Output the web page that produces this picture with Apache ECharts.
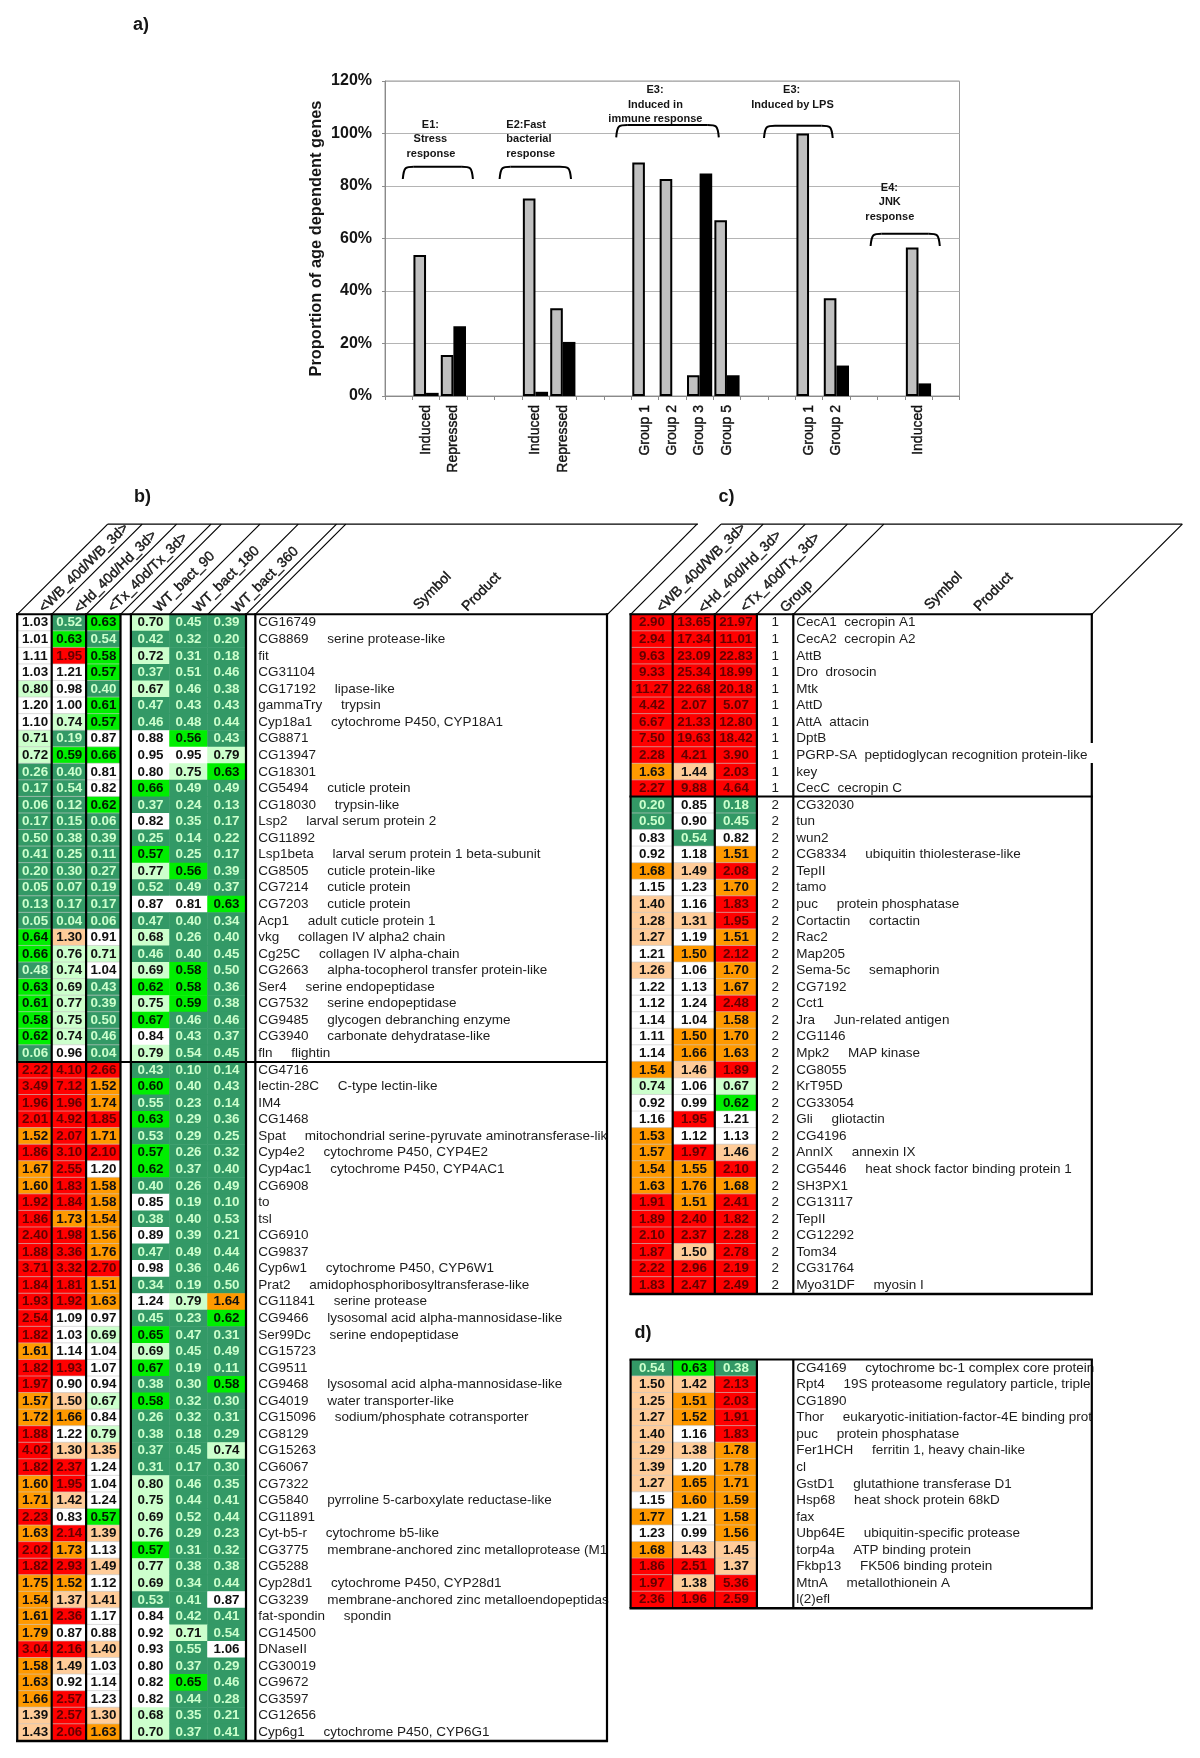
<!DOCTYPE html>
<html><head><meta charset="utf-8">
<style>html,body{margin:0;padding:0;background:#fff}#c{width:1200px;height:1758px}</style>
<script src="https://cdn.jsdelivr.net/npm/echarts@6/dist/echarts.min.js"></script>
</head><body><div id="c"></div>
<script>
// ---------- panel a ----------
const barCategories=['','Induced','Repressed','','','Induced','Repressed','','','Group 1','Group 2','Group 3','Group 5','','','Group 1','Group 2','','','Induced',''];
const grayValues=[null,53.7,15.6,null,null,75.2,33.4,null,null,89,82.7,7.9,67,null,null,100,37.2,null,null,56.6,null];
const blackValues=[null,1.2,26.6,null,null,1.6,20.6,null,null,0,0,84.8,7.9,null,null,0,11.6,null,null,4.8,null];
// ---------- panel b ----------
const bSymbols=['CG16749','CG8869','fit','CG31104','CG17192','gammaTry','Cyp18a1','CG8871','CG13947','CG18301','CG5494','CG18030','Lsp2','CG11892','Lsp1beta','CG8505','CG7214','CG7203','Acp1','vkg','Cg25C','CG2663','Ser4','CG7532','CG9485','CG3940','fln',
'CG4716','lectin-28C','IM4','CG1468','Spat','Cyp4e2','Cyp4ac1','CG6908','to','tsl','CG6910','CG9837','Cyp6w1','Prat2','CG11841','CG9466','Ser99Dc','CG15723','CG9511','CG9468','CG4019','CG15096','CG8129','CG15263','CG6067','CG7322','CG5840','CG11891','Cyt-b5-r','CG3775','CG5288','Cyp28d1','CG3239','fat-spondin','CG14500','DNaseII','CG30019','CG9672','CG3597','CG12656','Cyp6g1'];
const bProducts=['','serine protease-like','','','lipase-like','trypsin','cytochrome P450, CYP18A1','','','','cuticle protein','trypsin-like','larval serum protein 2','','larval serum protein 1 beta-subunit','cuticle protein-like','cuticle protein','cuticle protein','adult cuticle protein 1','collagen IV alpha2 chain','collagen IV alpha-chain','alpha-tocopherol transfer protein-like','serine endopeptidase','serine endopeptidase','glycogen debranching enzyme','carbonate dehydratase-like','flightin',
'','C-type lectin-like','','','mitochondrial serine-pyruvate aminotransferase-like','cytochrome P450, CYP4E2','cytochrome P450, CYP4AC1','','','','','','cytochrome P450, CYP6W1','amidophosphoribosyltransferase-like','serine protease','lysosomal acid alpha-mannosidase-like','serine endopeptidase','','','lysosomal acid alpha-mannosidase-like','water transporter-like','sodium/phosphate cotransporter','','','','','pyrroline 5-carboxylate reductase-like','','cytochrome b5-like','membrane-anchored zinc metalloprotease (M13)','','cytochrome P450, CYP28d1','membrane-anchored zinc metalloendopeptidase','spondin','','','','','','','cytochrome P450, CYP6G1'];
const bAgeing=[[1.03,.52,.63],[1.01,.63,.54],[1.11,1.95,.58],[1.03,1.21,.57],[.799,.98,.40],[1.20,1.00,.61],[1.10,.74,.57],[.71,.19,.87],[.72,.59,.66],[.26,.40,.81],[.17,.54,.82],[.06,.12,.62],[.17,.15,.06],[.50,.38,.39],[.41,.25,.11],[.20,.30,.27],[.05,.07,.19],[.13,.17,.17],[.05,.04,.06],[.64,1.30,.91],[.66,.76,.71],[.48,.74,1.04],[.63,.69,.43],[.61,.77,.39],[.58,.75,.50],[.62,.74,.46],[.06,.96,.04],
[2.22,4.10,2.66],[3.49,7.12,1.52],[1.96,1.96,1.74],[2.01,4.92,1.85],[1.52,2.07,1.71],[1.86,3.10,2.10],[1.67,2.55,1.20],[1.60,1.83,1.58],[1.92,1.84,1.58],[1.86,1.73,1.54],[2.40,1.98,1.56],[1.88,3.36,1.76],[3.71,3.32,2.70],[1.84,1.81,1.51],[1.93,1.92,1.63],[2.54,1.09,.97],[1.82,1.03,.69],[1.61,1.14,1.04],[1.82,1.93,1.07],[1.97,.90,.94],[1.57,1.499,.67],[1.72,1.66,.84],[1.88,1.22,.79],[4.02,1.30,1.35],[1.82,2.37,1.24],[1.60,1.95,1.04],[1.71,1.42,1.24],[2.23,.83,.57],[1.63,2.14,1.39],[2.02,1.73,1.13],[1.82,2.93,1.49],[1.75,1.52,1.12],[1.54,1.37,1.41],[1.61,2.36,1.17],[1.79,.87,.88],[3.04,2.16,1.40],[1.58,1.49,1.03],[1.63,.92,1.14],[1.66,2.57,1.23],[1.39,2.57,1.30],[1.43,2.06,1.63]];
const bBacteria=[[.70,.45,.39],[.42,.32,.20],[.72,.31,.18],[.37,.51,.46],[.67,.46,.38],[.47,.43,.43],[.46,.48,.44],[.88,.56,.43],[.95,.95,.79],[.80,.75,.63],[.66,.49,.49],[.37,.24,.13],[.82,.35,.17],[.25,.14,.22],[.57,.25,.17],[.77,.56,.39],[.52,.49,.37],[.87,.81,.63],[.47,.40,.34],[.68,.26,.40],[.46,.40,.45],[.69,.58,.50],[.62,.58,.36],[.75,.59,.38],[.666,.46,.46],[.84,.43,.37],[.79,.54,.45],
[.43,.10,.14],[.60,.40,.43],[.55,.23,.14],[.63,.29,.36],[.53,.29,.25],[.57,.26,.32],[.62,.37,.40],[.40,.26,.49],[.85,.19,.10],[.38,.40,.53],[.89,.39,.21],[.47,.49,.44],[.98,.36,.46],[.34,.19,.50],[1.24,.79,1.64],[.45,.23,.62],[.65,.47,.31],[.69,.45,.49],[.666,.19,.11],[.38,.30,.58],[.58,.32,.30],[.26,.32,.31],[.38,.18,.29],[.37,.45,.74],[.31,.17,.30],[.799,.46,.35],[.75,.44,.41],[.69,.52,.44],[.76,.29,.23],[.57,.31,.32],[.77,.38,.38],[.69,.34,.44],[.53,.41,.87],[.84,.42,.41],[.92,.71,.54],[.93,.55,1.06],[.80,.37,.29],[.82,.65,.46],[.82,.44,.28],[.68,.35,.21],[.70,.37,.41]];
// ---------- panel c ----------
const cSymbols=['CecA1','CecA2','AttB','Dro','Mtk','AttD','AttA','DptB','PGRP-SA','key','CecC','CG32030','tun','wun2','CG8334','TepII','tamo','puc','Cortactin','Rac2','Map205','Sema-5c','CG7192','Cct1','Jra','CG1146','Mpk2','CG8055','KrT95D','CG33054','Gli','CG4196','AnnIX','CG5446','SH3PX1','CG13117','TepII','CG12292','Tom34','CG31764','Myo31DF'];
const cProducts=['cecropin A1','cecropin A2','','drosocin','','','attacin','','peptidoglycan recognition protein-like','','cecropin C','','','','ubiquitin thiolesterase-like','','','protein phosphatase','cortactin','','','semaphorin','','','Jun-related antigen','','MAP kinase','','','','gliotactin','','annexin IX','heat shock factor binding protein 1','','','','','','','myosin I'];
const cAgeing=[[2.90,13.65,21.97],[2.94,17.34,11.01],[9.63,23.09,22.83],[9.33,25.34,18.99],[11.27,22.68,20.18],[4.42,2.07,5.07],[6.67,21.33,12.80],[7.50,19.63,18.42],[2.28,4.21,3.90],[1.63,1.44,2.03],[2.27,9.88,4.64],
[.20,.85,.18],[.50,.90,.45],[.83,.54,.82],[.92,1.18,1.51],[1.68,1.49,2.08],[1.15,1.23,1.70],[1.40,1.16,1.83],[1.28,1.31,1.95],[1.27,1.19,1.51],[1.21,1.50,2.12],[1.26,1.06,1.70],[1.22,1.13,1.67],[1.12,1.24,2.48],[1.14,1.04,1.58],[1.11,1.50,1.70],[1.14,1.66,1.63],[1.54,1.46,1.89],[.74,1.06,.67],[.92,.99,.62],[1.16,1.95,1.21],[1.53,1.12,1.13],[1.57,1.97,1.46],[1.54,1.55,2.10],[1.63,1.76,1.68],[1.91,1.51,2.41],[1.89,2.40,1.82],[2.10,2.37,2.28],[1.87,1.499,2.78],[2.22,2.96,2.19],[1.83,2.47,2.49]];
const cGroups=[1,1,1,1,1,1,1,1,1,1,1,2,2,2,2,2,2,2,2,2,2,2,2,2,2,2,2,2,2,2,2,2,2,2,2,2,2,2,2,2,2];
// ---------- panel d ----------
const dSymbols=['CG4169','Rpt4','CG1890','Thor','puc','Fer1HCH','cl','GstD1','Hsp68','fax','Ubp64E','torp4a','Fkbp13','MtnA','l(2)efl'];
const dProducts=['cytochrome bc-1 complex core protein','19S proteasome regulatory particle, triple-A ATPase','','eukaryotic-initiation-factor-4E binding protein','protein phosphatase','ferritin 1, heavy chain-like','','glutathione transferase D1','heat shock protein 68kD','','ubiquitin-specific protease','ATP binding protein','FK506 binding protein','metallothionein A',''];
const dAgeing=[[.54,.63,.38],[1.499,1.42,2.13],[1.25,1.51,2.03],[1.27,1.52,1.91],[1.40,1.16,1.83],[1.29,1.38,1.78],[1.39,1.20,1.78],[1.27,1.65,1.71],[1.15,1.60,1.59],[1.77,1.21,1.58],[1.23,.99,1.56],[1.68,1.43,1.45],[1.86,2.51,1.37],[1.97,1.38,5.36],[2.36,1.96,2.59]];
// ---------- header labels ----------
const bHeaders=['<WB_40d/WB_3d>','<Hd_40d/Hd_3d>','<Tx_40d/Tx_3d>','WT_bact_90','WT_bact_180','WT_bact_360','Symbol','Product'];
const cHeaders=['<WB_40d/WB_3d>','<Hd_40d/Hd_3d>','<Tx_40d/Tx_3d>','Group','Symbol','Product'];

const FONT='"Liberation Sans", Arial, sans-serif', INK='#151515';
const ROW=16.56;
function cellStyle(v){
  if(v<0.556) return {bg:'#339966',fg:'#ccffcc'};
  if(v<0.6667) return {bg:'#00ee00',fg:'#001a00'};
  if(v<0.8) return {bg:'#ccffcc',fg:'#101010'};
  if(v<1.25) return {bg:'#ffffff',fg:'#101010'};
  if(v<1.5) return {bg:'#ffcc99',fg:'#101010'};
  if(v<1.8) return {bg:'#ff9900',fg:'#101010'};
  return {bg:'#ff0000',fg:'#640000'};
}
const grids=[],xAxes=[],yAxes=[],series=[];
function panelGrid(left,right,top,rows,cols,labels,labelMargin,labelWidth){
  const i=grids.length;
  grids.push({left,top,width:right-left,height:rows*ROW});
  xAxes.push({gridIndex:i,type:'category',data:cols,show:false});
  yAxes.push({gridIndex:i,type:'category',inverse:true,data:labels||Array.from({length:rows},(_,k)=>String(k)),
    show:!!labels,position:'right',axisLine:{show:false},axisTick:{show:false},splitLine:{show:false},
    axisLabel:labels?{show:true,interval:0,hideOverlap:false,margin:labelMargin,align:'left',color:'#1c1c1c',fontFamily:FONT,fontSize:13.5,width:labelWidth,overflow:'truncate',ellipsis:''}:{show:false}});
  return i;
}
function heat(i,rows,lines){
  const data=[];
  rows.forEach((r,y)=>r.forEach((v,x)=>{const s=cellStyle(v);
    data.push({value:[x,y,v],itemStyle:{color:s.bg},label:{color:s.fg}});}));
  series.push({type:'heatmap',xAxisIndex:i,yAxisIndex:i,progressive:0,animation:false,data,
    itemStyle:lines?{borderColor:'rgba(200,200,200,.75)',borderWidth:.8}:{borderWidth:0},
    emphasis:{disabled:true},
    label:{show:true,fontFamily:FONT,fontWeight:'bold',fontSize:13.4,formatter:p=>p.value[2].toFixed(2)}});
}
function names(sym,prod,gapFor){return sym.map((s,i)=>prod[i]?s+gapFor(i)+prod[i]:s);}
const five=()=>'     ';
// panel b
const TOPB=614.5;
let g=panelGrid(18,120.5,TOPB,68,['a','b','c']); heat(g,bAgeing,true);
g=panelGrid(131.5,245.5,TOPB,68,['a','b','c'],names(bSymbols,bProducts,five),12.8,354); heat(g,bBacteria,false);
// panel c
g=panelGrid(631,756.9,TOPB,41,['a','b','c']); heat(g,cAgeing,true);
g=panelGrid(756.9,793.3,TOPB,41,['g'],names(cSymbols,cProducts,i=>i<11?'  ':'     '),3,294);
series.push({type:'heatmap',xAxisIndex:g,yAxisIndex:g,progressive:0,animation:false,emphasis:{disabled:true},
  data:cGroups.map((v,y)=>({value:[0,y,v]})),itemStyle:{color:'rgba(255,255,255,0)'},
  label:{show:true,color:'#1c1c1c',fontFamily:FONT,fontSize:13.4,formatter:p=>String(p.value[2])}});
// panel d
const TOPD=1359.6;
g=panelGrid(631,756.9,TOPD,15,['a','b','c']); heat(g,dAgeing,true);
g=panelGrid(756.9,793.3,TOPD,15,['g'],names(dSymbols,dProducts,five),3,301);
series.push({type:'heatmap',xAxisIndex:g,yAxisIndex:g,data:[]});
// panel a
const ga=grids.length;
grids.push({left:385,top:81,width:574.5,height:315,show:true,borderColor:'#9a9a9a',borderWidth:1,backgroundColor:'#fff'});
xAxes.push({gridIndex:ga,type:'category',data:barCategories,axisLine:{lineStyle:{color:'#8a8a8a',width:1.2}},
  axisTick:{show:true,interval:0,length:4,lineStyle:{color:'#8a8a8a'}},
  axisLabel:{interval:0,rotate:90,margin:9,color:'#111',fontFamily:FONT,fontSize:14,textBorderColor:'#111',textBorderWidth:.4}});
yAxes.push({gridIndex:ga,type:'value',min:0,max:120,interval:20,name:'Proportion of age dependent genes',nameLocation:'middle',nameGap:61,nameRotate:90,
  nameTextStyle:{color:'#151515',fontFamily:FONT,fontWeight:'bold',fontSize:16.4},
  axisLine:{show:true,lineStyle:{color:'#8a8a8a'}},axisTick:{show:true,length:3,lineStyle:{color:'#8a8a8a'}},
  splitLine:{lineStyle:{color:'#b4b4b4',width:1.2}},
  axisLabel:{formatter:'{value}%',margin:13,padding:[3,0,0,0],color:'#151515',fontFamily:FONT,fontWeight:'bold',fontSize:16}});
series.push({type:'bar',xAxisIndex:ga,yAxisIndex:ga,data:grayValues,barWidth:12.6,barGap:'0%',animation:false,itemStyle:{color:'#c0c0c0',borderColor:'#000',borderWidth:2}});
series.push({type:'bar',xAxisIndex:ga,yAxisIndex:ga,data:blackValues,barWidth:12.6,barGap:'0%',animation:false,itemStyle:{color:'#000'}});

// ---------- decoration ----------
const gfx=[];
const line=(x1,y1,x2,y2,w)=>gfx.push({type:'line',z:10,silent:true,shape:{x1,y1,x2,y2},style:{stroke:'#000',lineWidth:w,lineCap:'butt'}});
const text=(x,y,t,o)=>gfx.push({type:'text',z:10,silent:true,x,y,rotation:(o&&o.rot)||0,style:Object.assign({text:t,fill:INK,font:((o&&o.font)||'bold 11px')+' '+FONT,align:(o&&o.align)||'center',verticalAlign:'middle'},(o&&o.heavy)?{stroke:INK,lineWidth:.4}:{})});
function brace(x0,x1,y0,y1){
  const r=11,st={stroke:'#000',lineWidth:2,fill:null};
  gfx.push({type:'bezierCurve',z:10,silent:true,shape:{x1:x0,y1:y1,x2:x0+r,y2:y0,cpx1:x0+1,cpy1:y0,cpx2:x0+3,cpy2:y0},style:st});
  gfx.push({type:'line',z:10,silent:true,shape:{x1:x0+r,y1:y0,x2:x1-r,y2:y0},style:st});
  gfx.push({type:'bezierCurve',z:10,silent:true,shape:{x1:x1-r,y1:y0,x2:x1,y2:y1,cpx1:x1-3,cpy1:y0,cpx2:x1-1,cpy2:y0},style:st});
}
[[133,25,'a)'],[134,497,'b)'],[718.6,497,'c)'],[634.4,1333,'d)']].forEach(t=>text(t[0],t[1],t[2],{font:'bold 18px',align:'left'}));
// annotations of panel a
[[430.4,124.5,'E1:'],[430.4,139,'Stress'],[431,153.7,'response'],[655,90,'E3:'],[655.4,104.5,'Induced in'],[655.4,119,'immune response'],[791.6,90,'E3:'],[792.5,104.5,'Induced by LPS'],[889.4,188,'E4:'],[889.8,202,'JNK'],[889.8,216.7,'response']].forEach(t=>text(t[0],t[1],t[2]));
[[506.3,124.5,'E2:Fast'],[506.3,139,'bacterial'],[506.3,153.7,'response']].forEach(t=>text(t[0],t[1],t[2],{align:'left'}));
brace(402.8,472.9,166.7,179);brace(499.6,571,166.7,179);brace(616.2,718.8,125,137.3);brace(764,832.7,125.7,138);brace(870.6,939.8,233.7,246);
// header labels
const rot=Math.PI/4;
[[84,568],[115.5,572],[148,572.7],[184.5,582],[226.5,579.5],[265.5,580],[432.5,591],[481.5,592]].forEach((p,i)=>text(p[0],p[1],bHeaders[i],{rot,font:'14px',heavy:true}));
[[701.3,568],[740.2,572],[780.5,572.7],[796.5,596.6],[943.5,591],[993.5,592]].forEach((p,i)=>text(p[0],p[1],cHeaders[i],{rot,font:'14px',heavy:true}));
// frames, panel b
const TY=614.3,SL=90.5,HY=TY-SL+.3,BB=1741,DB=1062;
[17.2,51.7,86.1,120.5,130.9,169.5,207.8,246,255.3].forEach(x=>line(x,TY,x+SL,HY,1.2));
line(607.5,TY,607.5+SL-1,HY,1.2);
line(17.2+SL,HY,698,HY,1.2);
[17.2,51.7,86.1,120.5,130.9,246,255.3,607].forEach(x=>line(x,TY-1,x,BB+1,2.2));
line(16,TY,608,TY,2);line(16,DB,608,DB,2.2);line(16,BB,608,BB,2.4);
// frames, panel c
const CB=1294;
[630.6,672.7,714.8,756.9,793.3,1091.8].forEach(x=>line(x,TY,x+SL,HY,1.2));
line(630.6+SL,HY,1091.8+SL,HY,1.2);
[630.6,672.7,714.8,756.9,793.3].forEach(x=>line(x,TY-1,x,CB+1,2.2));
line(1091.8,TY-1,1091.8,743,2.2);line(1091.8,763,1091.8,CB+1,2.2);
line(629.5,TY,1092.9,TY,2);line(629.5,796.5,1092.9,796.5,2.2);line(629.5,CB,1092.9,CB,2.4);
// frames, panel d
const DT=1359.5,DE=1608.2;
[630.6,756.9,793.3,1091.8].forEach(x=>line(x,DT,x,DE,2.2));
[672.7,714.8].forEach(x=>line(x,DT,x,DE,1.1));
line(629.5,DT,1092.9,DT,2.2);line(629.5,DE,1092.9,DE,2.4);

const chart=echarts.init(document.getElementById('c'),null,{renderer:'canvas'});
chart.setOption({animation:false,backgroundColor:'#fff',textStyle:{fontFamily:FONT},grid:grids,xAxis:xAxes,yAxis:yAxes,series,graphic:{elements:gfx}});
</script></body></html>
